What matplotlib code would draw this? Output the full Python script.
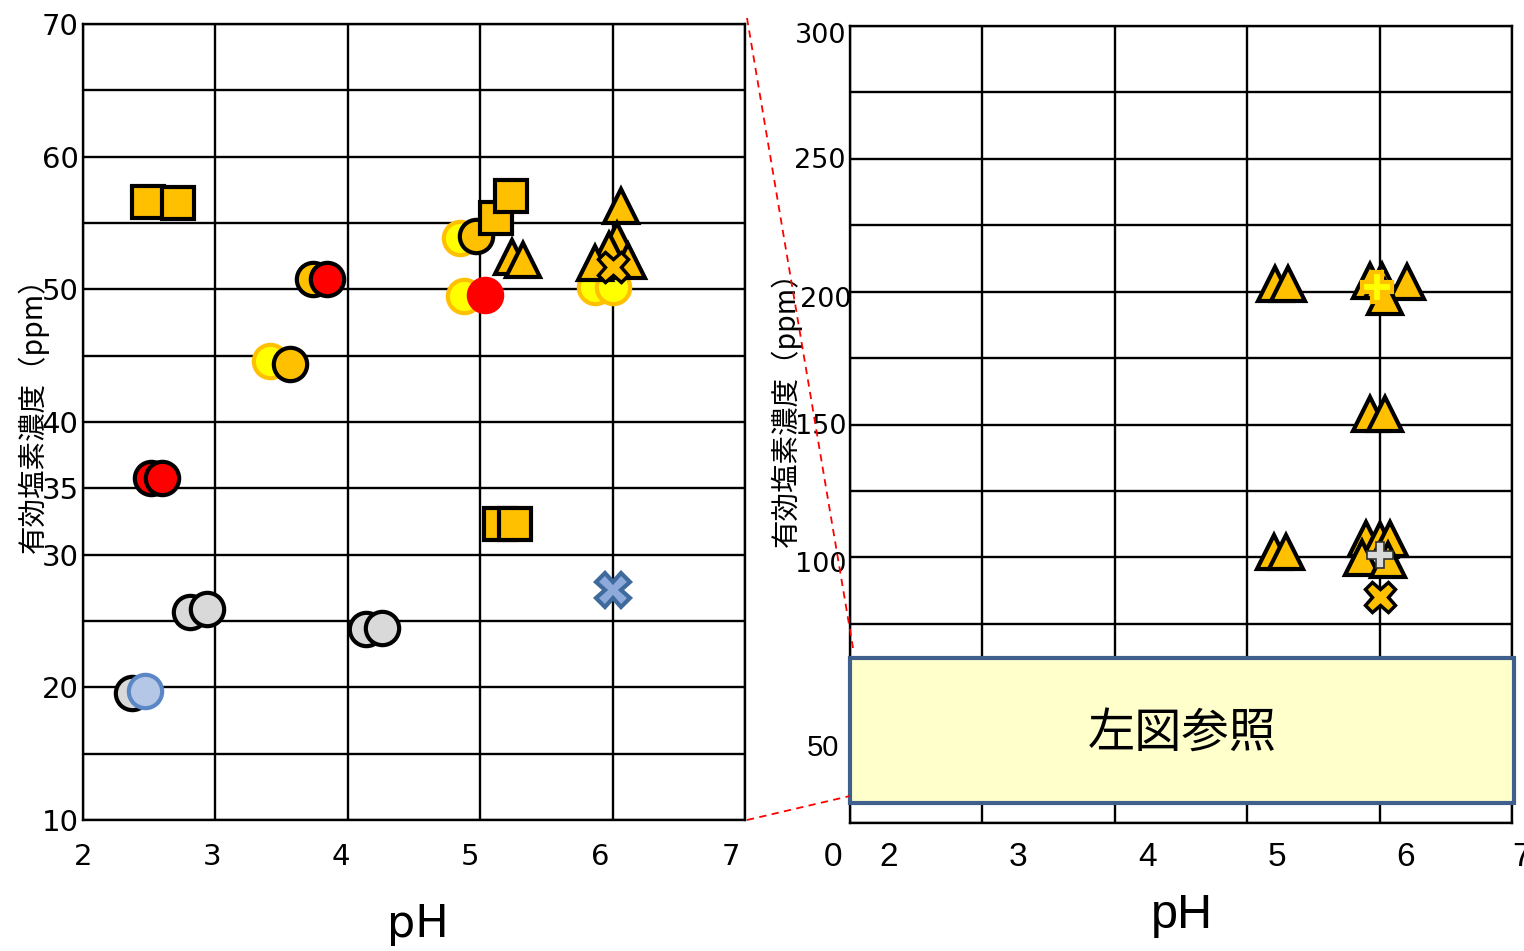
import matplotlib
matplotlib.use("Agg")
import matplotlib.pyplot as plt
from matplotlib.lines import Line2D
from matplotlib.patches import Rectangle

W, H = 1524, 951

# ---------------- data (left panel) ----------------
sq_ph = [2.49, 2.72, 5.12, 5.23, 5.15, 5.26]
sq_v = [56.6, 56.5, 55.4, 57.0, 32.3, 32.3]
ycirc_ph = [4.85, 3.41, 4.88, 5.87, 6.00]
ycirc_v = [53.9, 44.6, 49.5, 50.2, 50.2]
ocirc_ph = [4.97, 3.74, 3.56]
ocirc_v = [54.0, 50.8, 44.4]
red_ph = [3.84, 2.51, 2.60]
red_v = [50.8, 35.8, 35.8]
red2_ph = [5.04]
red2_v = [49.6]
gray_ph = [2.81, 2.94, 4.14, 4.26, 2.37]
gray_v = [25.7, 25.9, 24.4, 24.5, 19.6]
lblue_ph = [2.47]
lblue_v = [19.7]
triL_ph = [5.24, 5.32, 6.06, 6.03, 5.97, 5.87, 6.12]
triL_v = [52.4, 52.2, 56.3, 53.7, 53.0, 52.0, 52.1]
oxL_ph = [6.00]
oxL_v = [51.7]
bx_ph = [6.00]
bx_v = [27.3]

left_xticks = [2, 3, 4, 5, 6, 7]
left_yticks = [10, 20, 30, 35, 40, 50, 60, 70]
left_grid_y = [15, 25, 45, 55, 65]

# ---------------- data (right panel) ----------------
triR_ph = [5.21, 5.31, 5.93, 6.02, 6.21, 6.04, 5.93, 6.04,
           5.20, 5.29, 5.90, 6.00, 6.08, 5.87, 6.06]
triR_v = [203, 203, 204, 204, 203.6, 198, 154, 154,
          102, 102, 107, 106.5, 107, 99.7, 99]
yplus_ph = [5.98]
yplus_v = [201.7]
gplus_ph = [6.00]
gplus_v = [101]
oxR_ph = [6.00]
oxR_v = [85]

right_ylabels = ["300", "250", "200", "150", "100"]
right_xlabels = ["0", "2", "3", "4", "5", "6", "7"]

ORANGE = "#FFC000"
YELLOW = "#FFFF00"
RED = "#FF0000"
GRAY = "#D9D9D9"

ylabel_text = "有効塩素濃度（ppm）"
box_text = "左図参照"

fig = plt.figure(figsize=(W / 100, H / 100), dpi=100)


def fx(px):
    return px / W


def fy(py):
    return 1 - py / H


# ---------------- left axes ----------------
ax1 = fig.add_axes([fx(83), fy(820), (745 - 83) / W, (820 - 24) / H])
ax1.set_xlim(2, 7)
ax1.set_ylim(10, 70)
ax1.set_xticks(left_xticks)
ax1.set_xticklabels([])
ax1.set_yticks(left_yticks)
ax1.set_yticklabels([str(v) for v in left_yticks], fontsize=21,
                    family="DejaVu Sans")
ax1.set_yticks(left_grid_y, minor=True)
ax1.tick_params(axis="both", which="both", length=0)
ax1.tick_params(axis="y", pad=3)
ax1.grid(True, which="both", color="black", lw=1.7)
ax1.set_axisbelow(True)
for s in ax1.spines.values():
    s.set_color("black")
    s.set_linewidth(1.7)

ms_c, mew = 24, 3
ax1.plot(ycirc_ph, ycirc_v, "o", ms=ms_c, mfc=YELLOW, mec=ORANGE, mew=mew, ls="none", zorder=3)
ax1.plot(ocirc_ph, ocirc_v, "o", ms=ms_c, mfc=ORANGE, mec="black", mew=mew, ls="none", zorder=3)
ax1.plot(red_ph, red_v, "o", ms=ms_c, mfc=RED, mec="black", mew=mew, ls="none", zorder=3)
ax1.plot(red2_ph, red2_v, "o", ms=ms_c + 2, mfc=RED, mec=RED, mew=1, ls="none", zorder=3)
ax1.plot(gray_ph, gray_v, "o", ms=ms_c, mfc=GRAY, mec="black", mew=mew, ls="none", zorder=3)
ax1.plot(lblue_ph, lblue_v, "o", ms=ms_c, mfc="#B4C7E7", mec="#5B87C6", mew=mew, ls="none", zorder=3)
ax1.plot(triL_ph, triL_v, "^", ms=24, mfc=ORANGE, mec="black", mew=mew, ls="none", zorder=4)
ax1.plot(sq_ph, sq_v, "s", ms=23, mfc=ORANGE, mec="black", mew=mew, ls="none", zorder=4)
ax1.plot(oxL_ph, oxL_v, "X", ms=22, mfc=ORANGE, mec="black", mew=2.5, ls="none", zorder=5)
ax1.plot(bx_ph, bx_v, "X", ms=24, mfc="#8EAADB", mec="#3E6A9E", mew=3, ls="none", zorder=5)

# left x tick labels
left_xlabel_px = [83, 212, 341, 470, 600, 731]
for lab, px in zip(left_xticks, left_xlabel_px):
    fig.text(fx(px), fy(857), str(lab), fontsize=21, family="DejaVu Sans",
             ha="center", va="center")
fig.text(fx(418), fy(924), "pH", fontsize=32, family="DejaVu Sans",
         ha="center", va="center")
fig.text(fx(33), fy(408), ylabel_text, rotation=90, fontsize=20.5,
         family=["Noto Sans CJK JP", "DejaVu Sans"], ha="center", va="center")

# ---------------- right axes ----------------
ax2 = fig.add_axes([fx(850), fy(823), (1512 - 850) / W, (823 - 26) / H])
ax2.set_xlim(2, 7)
ax2.set_ylim(0, 300)
ax2.set_xticks(left_xticks)
ax2.set_xticklabels([])
ax2.set_yticks(range(0, 301, 25))
ax2.set_yticklabels([])
ax2.tick_params(axis="both", which="both", length=0)
ax2.grid(True, which="both", color="black", lw=1.7)
ax2.set_axisbelow(True)
for s in ax2.spines.values():
    s.set_color("black")
    s.set_linewidth(1.7)

ax2.plot(triR_ph, triR_v, "^", ms=24, mfc=ORANGE, mec="black", mew=mew, ls="none", zorder=4)
ax2.plot(yplus_ph, yplus_v, "P", ms=21, mfc=YELLOW, mec=ORANGE, mew=3, ls="none", zorder=5)
ax2.plot(gplus_ph, gplus_v, "P", ms=19, mfc=GRAY, mec="#333333", mew=1.2, ls="none", zorder=5)
ax2.plot(oxR_ph, oxR_v, "X", ms=22, mfc=ORANGE, mec="black", mew=2.5, ls="none", zorder=5)

# box covering the low range
rect = Rectangle((fx(850), fy(803)), (1514 - 850) / W, (803 - 658) / H,
                 transform=fig.transFigure, facecolor="#FFFFCC",
                 edgecolor="#3F5F8C", lw=3, zorder=10)
fig.add_artist(rect)
fig.text(fx(1182), fy(733), box_text, fontsize=34,
         family=["Noto Sans CJK JP", "DejaVu Sans"], ha="center", va="center",
         zorder=11)

# right y tick labels
ry_pos = [(846, 36), (846, 161), (851, 300), (846, 427), (846, 565)]
for lab, (px, py) in zip(right_ylabels, ry_pos):
    fig.text(fx(px), fy(py), lab, fontsize=19.5, family="DejaVu Sans",
             ha="right", va="center")
narrow = ["Liberation Sans Narrow", "Liberation Sans", "DejaVu Sans"]
fig.text(fx(839), fy(748), "50", fontsize=21, family=narrow, ha="right", va="center")

# right x tick labels
rx_pos = [833, 889, 1018, 1148, 1277, 1406, 1521]
for lab, px in zip(right_xlabels, rx_pos):
    fig.text(fx(px), fy(858), lab, fontsize=24, family=narrow,
             ha="center", va="center")
fig.text(fx(1182), fy(916), "pH", fontsize=35, family=narrow,
         ha="center", va="center")
fig.text(fx(786), fy(402), ylabel_text, rotation=90, fontsize=20.5,
         family=["Noto Sans CJK JP", "DejaVu Sans"], ha="center", va="center")

# red dashed connector lines
fig.add_artist(Line2D([fx(747), fx(853)], [fy(18), fy(648)], color="red",
                      lw=1.3, ls=(0, (4, 3)), transform=fig.transFigure, zorder=12))
fig.add_artist(Line2D([fx(747), fx(850)], [fy(820), fy(796)], color="red",
                      lw=1.3, ls=(0, (4, 3)), transform=fig.transFigure, zorder=12))

fig.savefig("out.png", dpi=100, facecolor="white")
